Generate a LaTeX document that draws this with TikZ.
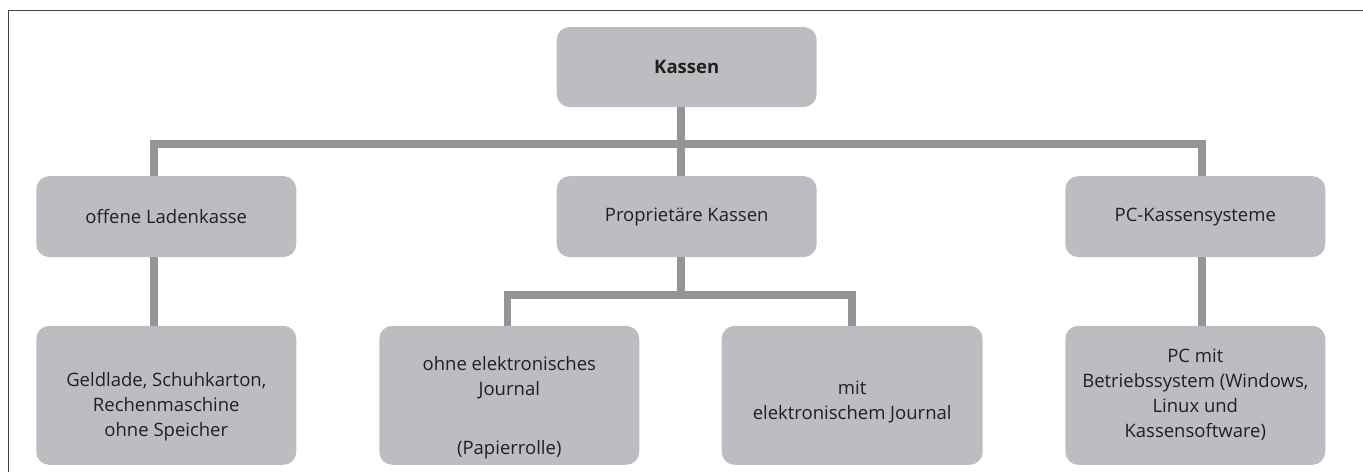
\documentclass[tikz,border=0pt]{standalone}
\usepackage{fontspec}
\setmainfont{Open Sans}
\definecolor{boxgray}{HTML}{BCBDC0}
\definecolor{linegray}{HTML}{939598}
\definecolor{txt}{HTML}{231F20}
\definecolor{framegray}{HTML}{444444}
\newcommand{\shiftedtext}[2]{\raisebox{#1}[0pt][0pt]{\begin{tabular}{@{}c@{}}#2\end{tabular}}}
\tikzset{
  kbox/.style={fill=boxgray, draw=none, rounded corners=13pt, minimum width=260pt,
    align=center, text=txt, font=\fontsize{18.5}{25}\selectfont, inner sep=0pt},
  smallbox/.style={kbox, minimum height=81pt},
  bigbox/.style={kbox, minimum height=139pt},
  conn/.style={draw=linegray, line width=7.5pt, line join=miter},
}
\renewcommand{\arraystretch}{1}
\begin{document}
\begin{tikzpicture}[x=1pt,y=-1pt]
\useasboundingbox (0,0) rectangle (1363,472);
% frame
\draw[framegray, line width=1.6pt] (8.5,472) -- (8.5,10.5) -- (1363,10.5);
% boxes
\node[smallbox, minimum height=80pt] (kassen) at (686.7,67) {\textbf{Kassen}};
\node[smallbox] (offene) at (166.3,216.6) {offene Ladenkasse};
\node[smallbox] (prop) at (686.7,216.6) {Proprietäre Kassen};
\node[smallbox] (pc) at (1195.3,216.6) {PC-Kassensysteme};
\node[bigbox] (geld) at (166.3,395.3) {\shiftedtext{-16pt}{Geldlade, Schuhkarton,\\Rechenmaschine\\ohne Speicher}};
\node[bigbox] (ohne) at (509.3,395.3) {\shiftedtext{-17pt}{ohne elektronisches\\Journal\\[34pt](Papierrolle)}};
\node[bigbox, minimum width=261pt] (mit) at (852.2,395.3) {\shiftedtext{-11pt}{mit\\elektronischem Journal}};
\node[bigbox] (pcmit) at (1195.3,395.3) {\shiftedtext{-4pt}{PC mit\\Betriebssystem (Windows,\\Linux und\\Kassensoftware)}};
% hub coordinates
\coordinate (hubA) at (681,144);
\coordinate (hubB) at (681,295);
% connectors
\draw[conn] ([xshift=-5.7pt]kassen.south) -- ([xshift=-5.7pt]prop.north);
\draw[conn] ([xshift=-12.3pt]offene.north) |- (hubA) -| ([xshift=6.7pt]pc.north);
\draw[conn] ([xshift=-12.3pt]offene.south) -- ([xshift=-12.3pt]geld.north);
\draw[conn] ([xshift=-5.7pt]prop.south) -- (hubB);
\draw[conn] ([xshift=-1.8pt]ohne.north) |- (hubB) -| (mit.north);
\draw[conn] ([xshift=6.7pt]pc.south) -- ([xshift=6.7pt]pcmit.north);
\end{tikzpicture}
\end{document}
